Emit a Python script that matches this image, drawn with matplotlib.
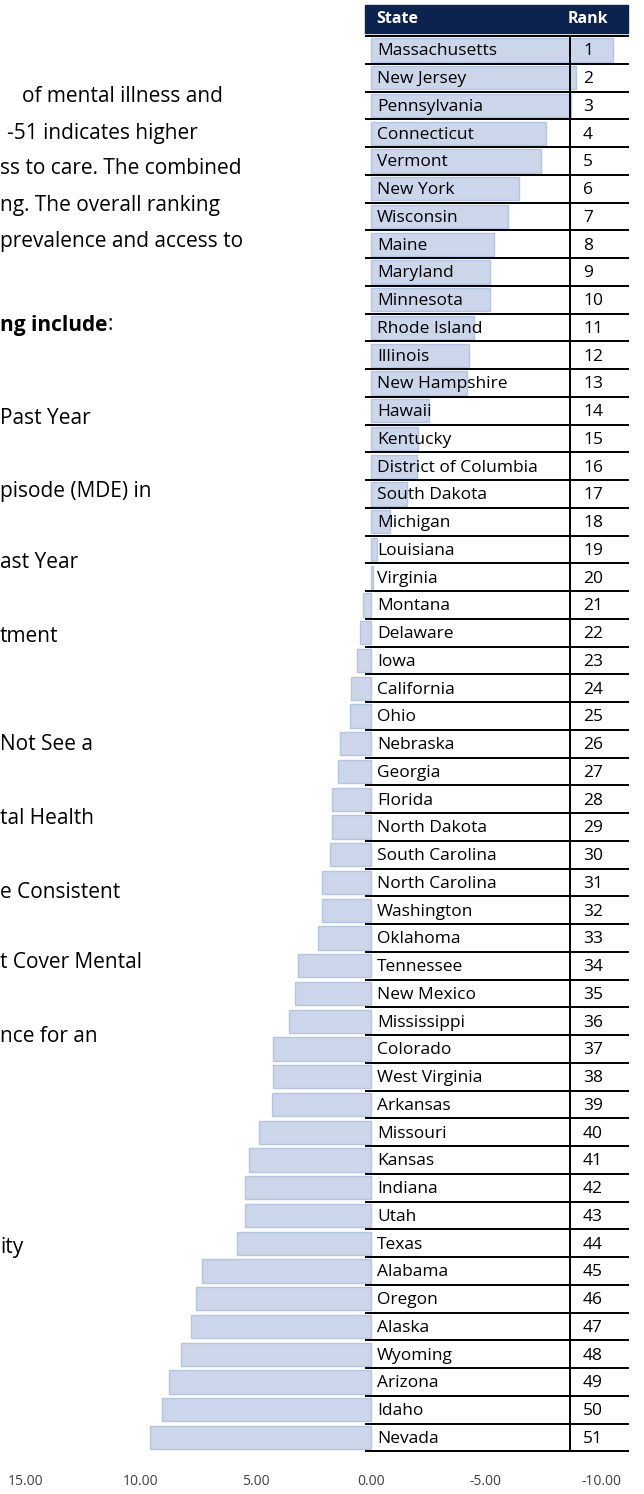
import matplotlib.pyplot as plt
from matplotlib.patches import Rectangle

plt.rcParams['font.family'] = ['Open Sans', 'DejaVu Sans']

# ranking table (rank 1 at the top)
states = ["Massachusetts", "New Jersey", "Pennsylvania", "Connecticut", "Vermont",
          "New York", "Wisconsin", "Maine", "Maryland", "Minnesota", "Rhode Island",
          "Illinois", "New Hampshire", "Hawaii", "Kentucky", "District of Columbia",
          "South Dakota", "Michigan", "Louisiana", "Virginia", "Montana", "Delaware",
          "Iowa", "California", "Ohio", "Nebraska", "Georgia", "Florida", "North Dakota",
          "South Carolina", "North Carolina", "Washington", "Oklahoma", "Tennessee",
          "New Mexico", "Mississippi", "Colorado", "West Virginia", "Arkansas", "Missouri",
          "Kansas", "Indiana", "Utah", "Texas", "Alabama", "Oregon", "Alaska", "Wyoming",
          "Arizona", "Idaho", "Nevada"]
ranks = list(range(1, 52))
# combined score (axis runs 15 -> -10)
scores = [-10.54, -8.91, -8.70, -7.61, -7.39, -6.43, -5.96, -5.35, -5.17, -5.17,
          -4.48, -4.26, -4.17, -2.52, -2.04, -2.00, -1.57, -0.83, -0.26, -0.07,
          0.33, 0.46, 0.59, 0.85, 0.91, 1.35, 1.43, 1.70, 1.70, 1.80,
          2.13, 2.13, 2.30, 3.17, 3.30, 3.57, 4.26, 4.26, 4.30, 4.87,
          5.30, 5.48, 5.48, 5.83, 7.35, 7.61, 7.83, 8.26, 8.78, 9.09, 9.61]
xticks = [15, 10, 5, 0, -5, -10]

# text on the left, cut off by the page edge
intro_lines = ["of mental illness and", "-51 indicates higher", "ss to care. The combined",
               "ng. The overall ranking", "prevalence and access to"]
heading = "ng include"
list_lines = ["Past Year", "pisode (MDE) in", "ast Year", "tment", "Not See a",
              "tal Health", "e Consistent", "t Cover Mental", "nce for an", "ity"]

W, H = 644, 1494
ZERO = 371.0   # pixel of x = 0
PPU = 23.0     # pixels per unit


def xd(px):
    return (ZERO - px) / PPU


def fy(py):
    return 1 - py / H


fig = plt.figure(figsize=(W / 100, H / 100), dpi=100)
top_px, bot_px = 36.1, 1451.4
ax = fig.add_axes([0, fy(bot_px), 1, (bot_px - top_px) / H])

n = len(states)
ax.barh(range(n), scores, height=0.84, color='#cbd6ea', edgecolor='#b3c5e3', linewidth=1, zorder=1)
ax.set_xlim(xd(0), xd(W))
ax.set_ylim(n - 0.5, -0.5)

# table lines
ax.hlines([i + 0.5 for i in range(-1, n)], xd(365), xd(629), colors='black', linewidth=1.4,
          zorder=3, clip_on=False)
ax.vlines(xd(570), -0.5, n - 0.5, colors='black', linewidth=1.4, zorder=3, clip_on=False)

for i, (s, r) in enumerate(zip(states, ranks)):
    ax.text(xd(377), i + 0.05, s, ha='left', va='center', fontsize=12.5, color='black', zorder=4)
    ax.text(xd(583), i + 0.05, str(r), ha='left', va='center', fontsize=12.5, color='black', zorder=4)

# header
fig.patches.append(Rectangle((365 / W, fy(33)), (628 - 365) / W, 28 / H,
                             transform=fig.transFigure, color='#0c2350', zorder=0))
fig.text(376 / W, fy(19), "State", color='white', fontsize=11.5, fontweight='bold', va='center')
fig.text(568 / W, fy(19), "Rank", color='white', fontsize=11.5, fontweight='bold', va='center')

ax.set_xticks(xticks)
ax.set_xticklabels([f"{t:.2f}" for t in xticks], fontsize=10, color='#404040')
ax.tick_params(axis='x', length=0, pad=16)
ax.set_yticks([])
for sp in ax.spines.values():
    sp.set_visible(False)

# left-hand text
intro_x = [22, 7, 0, 0, 0]
for k, line in enumerate(intro_lines):
    fig.text(intro_x[k] / W, fy(97 + 36 * k), line, fontsize=15, va='center', color='black')
t = fig.text(0, fy(325), heading, fontsize=15, fontweight='bold', va='center', color='black')
fig.text(113 / W, fy(325), ":", fontsize=15, va='center', ha='right', color='black')
list_y = [418, 492, 563, 637, 745, 818, 892, 963, 1037, 1247]
for line, y in zip(list_lines, list_y):
    fig.text(0, fy(y), line, fontsize=15, va='center', color='black')

fig.savefig('out.png', dpi=100)
